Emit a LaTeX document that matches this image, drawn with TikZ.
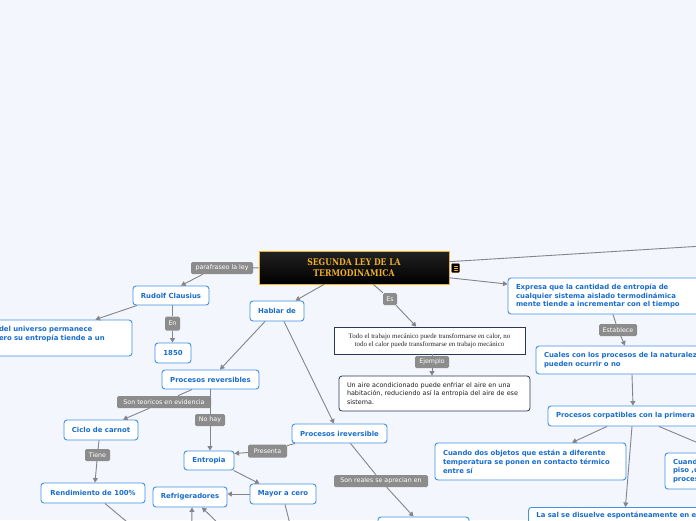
\documentclass[tikz,border=0pt]{standalone}
\usepackage{fontspec}
\usepackage{graphicx}
\setmainfont{DejaVu Sans}
\newfontfamily\serifx{Liberation Serif}
\newfontfamily\titlefont{DejaVu Serif}
\usetikzlibrary{arrows.meta}
\definecolor{bgc}{RGB}{243,246,253}
\definecolor{nodeblue}{RGB}{62,146,232}
\definecolor{textblue}{RGB}{24,108,206}
\definecolor{navy}{RGB}{42,56,88}
\definecolor{lblgray}{RGB}{140,140,140}
\definecolor{edgegray}{RGB}{132,132,138}
\definecolor{gold}{RGB}{240,176,40}
\newcommand\bfn{\fontsize{6.9}{8.8}\selectfont\bfseries}
\newcommand\lfn{\fontsize{6.3}{7}\selectfont}
\tikzset{
  bx/.style={draw=nodeblue, line width=0.9pt, rounded corners=3pt, fill=white, text=textblue, font=\bfn, inner sep=2pt},
  mbx/.style={bx, align=left, inner xsep=8pt},
  lbl/.style={fill=lblgray, text=white, font=\lfn, rounded corners=1.5pt, inner sep=0pt},
  edge/.style={draw=edgegray, line width=0.9pt},
  arr/.style={edge, -{Triangle[length=4.5pt,width=5pt]}}
}
\begin{document}
\begin{tikzpicture}[x=1pt,y=-1pt]
\fill[bgc] (0,0) rectangle (696,520);
\useasboundingbox (0,0) rectangle (696,520);

% main
\node[draw=gold, line width=0.8pt, minimum width=190pt, minimum height=33pt, inner sep=0pt,
  top color={rgb,255:red,34;green,34;blue,34}, bottom color=black, align=center, text=gold,
  font=\titlefont\bfseries\fontsize{9.2}{10.8}\selectfont] (main) at (354,267.5)
  {\scalebox{0.84}[1]{SEGUNDA LEY DE LA}\\\scalebox{0.84}[1]{TERMODINAMICA}};
\node[fill=black, draw=gold!50!black, line width=0.4pt, rounded corners=1pt, minimum width=8pt, minimum height=9pt, inner sep=0pt,
  path picture={
    \draw[gold, line width=0.5pt] ([xshift=-2pt,yshift=2pt]path picture bounding box.center) -- ++(4,0);
    \draw[gold, line width=0.5pt] ([xshift=-2pt]path picture bounding box.center) -- ++(4,0);
    \draw[gold, line width=0.5pt] ([xshift=-2pt,yshift=-2pt]path picture bounding box.center) -- ++(4,0);
  }] (ic) at (455.5,268) {};

% right branch
\node[mbx, minimum width=220pt, minimum height=36pt, text width=204pt] (expr) at (618,296)
  {Expresa que la cantidad de entropía de\\cualquier sistema aislado termodinámica\\mente tiende a incrementar con el tiempo};
\node[lbl, minimum width=38pt, minimum height=12pt] (lest) at (618,330) {Establece};
\node[mbx, minimum width=220pt, minimum height=28pt, text width=204pt] (cual) at (646,360)
  {Cuales con los procesos de la naturaleza\\pueden ocurrir o no};
\node[mbx, minimum width=220pt, minimum height=20pt, text width=204pt] (pc) at (658,416)
  {Procesos corpatibles con la primera};
\node[mbx, minimum width=191pt, minimum height=37pt, text width=175pt] (cd) at (530.5,461.5)
  {Cuando dos objetos que están a diferente\\temperatura se ponen en contacto térmico\\entre sí};
\node[mbx, minimum width=112pt, minimum height=36pt, text width=96pt] (cu) at (721,471)
  {Cuand\\piso ,u\\proces};
\node[mbx, text width=204pt, anchor=north west, inner ysep=4.5pt] (sal) at (528,507)
  {La sal se disuelve espontáneamente en e\\\mbox{}};

% middle branch
\node[lbl, minimum width=14pt, minimum height=12pt] (les) at (390,299) {Es};
\node[draw=navy, line width=0.8pt, fill=white, minimum width=191pt, minimum height=27pt, inner sep=0pt, align=center,
  font=\serifx\fontsize{6.9}{8.3}\selectfont, text=black!85] (todo) at (429.5,340.5)
  {Todo el trabajo mecánico puede transformarse en calor, no\\todo el calor puede transformarse en trabajo mecánico};
\node[lbl, minimum width=34pt, minimum height=12pt] (lej) at (432,362) {Ejemplo};
\node[draw=navy, line width=0.8pt, fill=white, rounded corners=3pt, minimum width=191pt, minimum height=35pt,
  inner xsep=8pt, text width=175pt, align=left, font=\fontsize{6.4}{8.4}\selectfont, text=black!88] (aire) at (434.5,393.5)
  {Un aire acondicionado puede enfriar el aire en una\\habitación, reduciendo así la entropía del aire de ese\\sistema.};

% left branch
\node[lbl, minimum width=62pt, minimum height=12pt] (lpar) at (222,268) {parafraseo la ley};
\node[bx, minimum width=76pt, minimum height=19pt] (ru) at (171,295.5) {Rudolf Clausius};
\node[mbx, minimum width=141pt, minimum height=36pt, text width=125pt] (lb) at (61.5,338)
  {del universo permanece\\ero su entropía tiende a un\\\mbox{}};
\node[lbl, minimum width=15pt, minimum height=14pt] (len) at (172.5,323.5) {En};
\node[bx, minimum width=36pt, minimum height=20pt] (y50) at (173,353) {1850};

\node[bx, minimum width=54pt, minimum height=20pt] (hab) at (277,311) {Hablar de};
\node[bx, minimum width=97pt, minimum height=19pt] (prev) at (210.5,379.5) {Procesos reversibles};
\node[bx, minimum width=95pt, minimum height=19pt] (pir) at (339.5,433.5) {Procesos ireversible};
\node[lbl, minimum width=94pt, minimum height=12pt] (lst) at (164,402) {Son teoricos en evidencia};
\node[lbl, minimum width=30pt, minimum height=12pt] (lnh) at (210,420) {No hay};
\node[bx, minimum width=74pt, minimum height=20pt] (cic) at (101,430) {Ciclo de carnot};
\node[lbl, minimum width=25pt, minimum height=12pt] (lti) at (97.5,455) {Tiene};
\node[bx, minimum width=104pt, minimum height=20pt] (rend) at (93,493) {Rendimiento de 100\%};
\node[bx, minimum width=50pt, minimum height=19pt] (ent) at (209,460.5) {Entropia};
\node[lbl, minimum width=39pt, minimum height=13pt] (lpr) at (267.5,451) {Presenta};
\node[bx, minimum width=66pt, minimum height=20pt] (may) at (283,494) {Mayor a cero};
\node[bx, minimum width=74pt, minimum height=20pt] (ref) at (190,497) {Refrigeradores};
\node[lbl, minimum width=94pt, minimum height=12pt] (lsr) at (381,481) {Son reales se aprecian en};
\node[bx, minimum width=91pt, minimum height=26pt] (bx) at (423.5,530) {};

% free ends
\coordinate (tr) at (800,240);
\coordinate (rb) at (145,537);
\coordinate (rb1) at (191.5,540);
\coordinate (rb2) at (235,540);
\coordinate (mb) at (294,540);

% connectors
\draw[edge] (main) -- (tr);
\draw[arr] (main) -- (expr);
\draw[edge] (main) -- (lpar);
\draw[arr] ([xshift=-19pt]lpar.south) -- ([xshift=10pt]ru.north);
\draw[arr] ([xshift=-34pt]ru.south) -- ([xshift=-37pt]lb.north east);
\draw[edge] (ru.south -| len.north) -- (len.north);
\draw[arr] (len.south) -- (len.south |- y50.north);
\draw[arr] (main) -- (hab);
\draw[edge] (main) -- (les);
\draw[arr] (les) -- (todo);
\draw[edge] (todo.south -| lej.north) -- (lej.north);
\draw[arr] (lej.south) -- (lej.south |- aire.north);
\draw[edge] ([xshift=-5pt]expr.south) -- (lest);
\draw[arr] (lest) -- ([xshift=-21pt]cual.north);
\draw[arr] ([xshift=-14pt]cual.south) -- ([xshift=-25pt]pc.north);
\draw[arr] ([xshift=-51pt]pc.south) -- ([xshift=41.5pt]cd.north);
\draw[arr] ([xshift=-26pt]pc.south) -- ([xshift=-13pt]sal.north);
\draw[arr] ([xshift=1pt]pc.south) -- (cu.north);
\draw[arr] ([xshift=-12pt]hab.south) -- ([xshift=9.5pt]prev.north);
\draw[arr] ([xshift=7pt]hab.south) -- ([xshift=-5.5pt]pir.north);
\draw[edge] ([xshift=-18.5pt]prev.south) -- (lst);
\draw[arr] (lst) -- ([xshift=22pt]cic.north);
\draw[edge] (prev.south -| lnh.north) -- (lnh.north);
\draw[arr] (lnh.south) -- (lnh.south |- ent.north);
\draw[edge] ([xshift=-2pt]cic.south) -- (lti);
\draw[arr] (lti) -- ([xshift=2pt]rend.north);
\draw[edge] ([xshift=12pt]rend.south) -- (rb);
\draw[edge] ([xshift=-44.5pt]pir.south) -- (lpr);
\draw[arr] (lpr) -- ([yshift=7pt]ent.east);
\draw[arr] ([xshift=-1pt]ent.south east) -- ([xshift=10pt]may.north west);
\draw[arr] (may.west) -- (may.west -| ref.east);
\draw[arr] (rb1) -- ([xshift=2pt]ref.south);
\draw[arr] (rb2) -- ([xshift=12pt]ref.south);
\draw[edge] ([xshift=2pt]may.south) -- (mb);
\draw[edge] ([xshift=11pt]pir.south) -- (lsr);
\draw[arr] (lsr) -- ([xshift=-10pt]bx.north);
\end{tikzpicture}
\end{document}
